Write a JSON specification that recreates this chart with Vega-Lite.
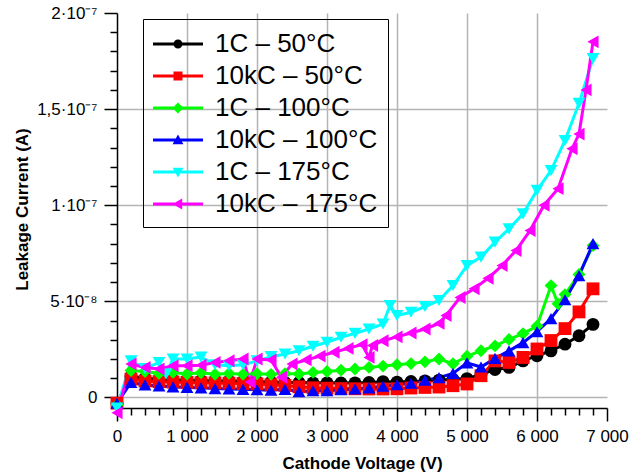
{
  "$schema": "https://vega.github.io/schema/vega-lite/v6.json",
  "width": 490,
  "height": 395,
  "autosize": {"type": "none"},
  "padding": {"left": 117, "top": 13, "right": 28, "bottom": 66},
  "background": "white",
  "config": {"view": {"stroke": null}, "font": "Liberation Sans"},
  "data": {"values": [
    {"s":"1C – 50°C","v":0,"i":-3e-9},{"s":"1C – 50°C","v":200,"i":11e-9},{"s":"1C – 50°C","v":400,"i":10e-9},{"s":"1C – 50°C","v":600,"i":9.5e-9},{"s":"1C – 50°C","v":800,"i":9e-9},{"s":"1C – 50°C","v":1000,"i":9e-9},{"s":"1C – 50°C","v":1200,"i":8.8e-9},{"s":"1C – 50°C","v":1400,"i":8.6e-9},{"s":"1C – 50°C","v":1600,"i":8.5e-9},{"s":"1C – 50°C","v":1800,"i":8.4e-9},{"s":"1C – 50°C","v":2000,"i":8.2e-9},{"s":"1C – 50°C","v":2200,"i":8e-9},{"s":"1C – 50°C","v":2400,"i":7.8e-9},{"s":"1C – 50°C","v":2600,"i":7.8e-9},{"s":"1C – 50°C","v":2800,"i":7.6e-9},{"s":"1C – 50°C","v":3000,"i":7.6e-9},{"s":"1C – 50°C","v":3200,"i":7.5e-9},{"s":"1C – 50°C","v":3400,"i":7.6e-9},{"s":"1C – 50°C","v":3600,"i":7.8e-9},{"s":"1C – 50°C","v":3800,"i":8.2e-9},{"s":"1C – 50°C","v":4000,"i":8e-9},{"s":"1C – 50°C","v":4200,"i":8.3e-9},{"s":"1C – 50°C","v":4400,"i":8.6e-9},{"s":"1C – 50°C","v":4600,"i":9e-9},{"s":"1C – 50°C","v":4800,"i":9.4e-9},{"s":"1C – 50°C","v":5000,"i":9.8e-9},{"s":"1C – 50°C","v":5200,"i":12e-9},{"s":"1C – 50°C","v":5400,"i":14.5e-9},{"s":"1C – 50°C","v":5600,"i":15.6e-9},{"s":"1C – 50°C","v":5800,"i":19e-9},{"s":"1C – 50°C","v":6000,"i":21.7e-9},{"s":"1C – 50°C","v":6200,"i":24.2e-9},{"s":"1C – 50°C","v":6400,"i":27.7e-9},{"s":"1C – 50°C","v":6600,"i":32.1e-9},{"s":"1C – 50°C","v":6800,"i":38e-9},
    {"s":"10kC – 50°C","v":0,"i":-3e-9},{"s":"10kC – 50°C","v":200,"i":9.5e-9},{"s":"10kC – 50°C","v":400,"i":8.5e-9},{"s":"10kC – 50°C","v":600,"i":8.2e-9},{"s":"10kC – 50°C","v":800,"i":8e-9},{"s":"10kC – 50°C","v":1000,"i":7.8e-9},{"s":"10kC – 50°C","v":1200,"i":7.6e-9},{"s":"10kC – 50°C","v":1400,"i":7.5e-9},{"s":"10kC – 50°C","v":1600,"i":7.4e-9},{"s":"10kC – 50°C","v":1800,"i":7.2e-9},{"s":"10kC – 50°C","v":2000,"i":7e-9},{"s":"10kC – 50°C","v":2200,"i":6.6e-9},{"s":"10kC – 50°C","v":2400,"i":6.2e-9},{"s":"10kC – 50°C","v":2600,"i":5.5e-9},{"s":"10kC – 50°C","v":2800,"i":5e-9},{"s":"10kC – 50°C","v":3000,"i":4.8e-9},{"s":"10kC – 50°C","v":3200,"i":4.6e-9},{"s":"10kC – 50°C","v":3400,"i":4.5e-9},{"s":"10kC – 50°C","v":3600,"i":4.4e-9},{"s":"10kC – 50°C","v":3800,"i":4.4e-9},{"s":"10kC – 50°C","v":4000,"i":4.5e-9},{"s":"10kC – 50°C","v":4200,"i":4.9e-9},{"s":"10kC – 50°C","v":4400,"i":5.2e-9},{"s":"10kC – 50°C","v":4600,"i":5.4e-9},{"s":"10kC – 50°C","v":4800,"i":6.1e-9},{"s":"10kC – 50°C","v":5000,"i":7e-9},{"s":"10kC – 50°C","v":5200,"i":11.3e-9},{"s":"10kC – 50°C","v":5400,"i":19e-9},{"s":"10kC – 50°C","v":5600,"i":18.2e-9},{"s":"10kC – 50°C","v":5800,"i":20.8e-9},{"s":"10kC – 50°C","v":6000,"i":25.2e-9},{"s":"10kC – 50°C","v":6200,"i":29.6e-9},{"s":"10kC – 50°C","v":6400,"i":35.8e-9},{"s":"10kC – 50°C","v":6600,"i":44.5e-9},{"s":"10kC – 50°C","v":6800,"i":56.5e-9},
    {"s":"1C – 100°C","v":0,"i":-4e-9},{"s":"1C – 100°C","v":200,"i":14e-9},{"s":"1C – 100°C","v":400,"i":13.5e-9},{"s":"1C – 100°C","v":600,"i":12.5e-9},{"s":"1C – 100°C","v":800,"i":13e-9},{"s":"1C – 100°C","v":1000,"i":12.2e-9},{"s":"1C – 100°C","v":1200,"i":12.8e-9},{"s":"1C – 100°C","v":1400,"i":12e-9},{"s":"1C – 100°C","v":1600,"i":12.5e-9},{"s":"1C – 100°C","v":1800,"i":12e-9},{"s":"1C – 100°C","v":2000,"i":12.3e-9},{"s":"1C – 100°C","v":2200,"i":12e-9},{"s":"1C – 100°C","v":2400,"i":12.4e-9},{"s":"1C – 100°C","v":2600,"i":12.2e-9},{"s":"1C – 100°C","v":2800,"i":13e-9},{"s":"1C – 100°C","v":3000,"i":13.5e-9},{"s":"1C – 100°C","v":3200,"i":14.2e-9},{"s":"1C – 100°C","v":3400,"i":14.8e-9},{"s":"1C – 100°C","v":3600,"i":15.6e-9},{"s":"1C – 100°C","v":3800,"i":16.3e-9},{"s":"1C – 100°C","v":4000,"i":17e-9},{"s":"1C – 100°C","v":4200,"i":17.6e-9},{"s":"1C – 100°C","v":4400,"i":18.5e-9},{"s":"1C – 100°C","v":4600,"i":20e-9},{"s":"1C – 100°C","v":4800,"i":17.5e-9},{"s":"1C – 100°C","v":5000,"i":21.4e-9},{"s":"1C – 100°C","v":5200,"i":24.3e-9},{"s":"1C – 100°C","v":5400,"i":26.8e-9},{"s":"1C – 100°C","v":5600,"i":30.2e-9},{"s":"1C – 100°C","v":5800,"i":33.2e-9},{"s":"1C – 100°C","v":6000,"i":37.1e-9},{"s":"1C – 100°C","v":6200,"i":58.2e-9},{"s":"1C – 100°C","v":6300,"i":48.7e-9},{"s":"1C – 100°C","v":6400,"i":53.5e-9},{"s":"1C – 100°C","v":6600,"i":64e-9},{"s":"1C – 100°C","v":6800,"i":79e-9},
    {"s":"10kC – 100°C","v":0,"i":-3e-9},{"s":"10kC – 100°C","v":200,"i":7.8e-9},{"s":"10kC – 100°C","v":400,"i":6.5e-9},{"s":"10kC – 100°C","v":600,"i":6e-9},{"s":"10kC – 100°C","v":800,"i":5.5e-9},{"s":"10kC – 100°C","v":1000,"i":5.2e-9},{"s":"10kC – 100°C","v":1200,"i":5e-9},{"s":"10kC – 100°C","v":1400,"i":4.6e-9},{"s":"10kC – 100°C","v":1600,"i":4.4e-9},{"s":"10kC – 100°C","v":1800,"i":4.2e-9},{"s":"10kC – 100°C","v":2000,"i":4e-9},{"s":"10kC – 100°C","v":2200,"i":3.8e-9},{"s":"10kC – 100°C","v":2400,"i":4.2e-9},{"s":"10kC – 100°C","v":2600,"i":3e-9},{"s":"10kC – 100°C","v":2800,"i":3.5e-9},{"s":"10kC – 100°C","v":3000,"i":3.5e-9},{"s":"10kC – 100°C","v":3200,"i":4e-9},{"s":"10kC – 100°C","v":3400,"i":4.4e-9},{"s":"10kC – 100°C","v":3600,"i":5e-9},{"s":"10kC – 100°C","v":3800,"i":5.8e-9},{"s":"10kC – 100°C","v":4000,"i":6.6e-9},{"s":"10kC – 100°C","v":4200,"i":7.4e-9},{"s":"10kC – 100°C","v":4400,"i":9e-9},{"s":"10kC – 100°C","v":4600,"i":10.3e-9},{"s":"10kC – 100°C","v":4800,"i":12.5e-9},{"s":"10kC – 100°C","v":5000,"i":18e-9},{"s":"10kC – 100°C","v":5200,"i":15.8e-9},{"s":"10kC – 100°C","v":5400,"i":20.3e-9},{"s":"10kC – 100°C","v":5600,"i":24.2e-9},{"s":"10kC – 100°C","v":5800,"i":28.5e-9},{"s":"10kC – 100°C","v":6000,"i":34.2e-9},{"s":"10kC – 100°C","v":6200,"i":41e-9},{"s":"10kC – 100°C","v":6400,"i":50.8e-9},{"s":"10kC – 100°C","v":6600,"i":63.4e-9},{"s":"10kC – 100°C","v":6800,"i":80e-9},
    {"s":"1C – 175°C","v":0,"i":-5.5e-9},{"s":"1C – 175°C","v":200,"i":19e-9},{"s":"1C – 175°C","v":400,"i":15e-9},{"s":"1C – 175°C","v":600,"i":18.2e-9},{"s":"1C – 175°C","v":700,"i":12.2e-9},{"s":"1C – 175°C","v":800,"i":20e-9},{"s":"1C – 175°C","v":1000,"i":20e-9},{"s":"1C – 175°C","v":1200,"i":21e-9},{"s":"1C – 175°C","v":1400,"i":17e-9},{"s":"1C – 175°C","v":1600,"i":16.5e-9},{"s":"1C – 175°C","v":1800,"i":17e-9},{"s":"1C – 175°C","v":2000,"i":19e-9},{"s":"1C – 175°C","v":2200,"i":21.2e-9},{"s":"1C – 175°C","v":2400,"i":22.6e-9},{"s":"1C – 175°C","v":2600,"i":24.3e-9},{"s":"1C – 175°C","v":2800,"i":26.6e-9},{"s":"1C – 175°C","v":3000,"i":28.7e-9},{"s":"1C – 175°C","v":3200,"i":31.3e-9},{"s":"1C – 175°C","v":3400,"i":33.3e-9},{"s":"1C – 175°C","v":3600,"i":35.6e-9},{"s":"1C – 175°C","v":3800,"i":38.2e-9},{"s":"1C – 175°C","v":3900,"i":47.8e-9},{"s":"1C – 175°C","v":4000,"i":42.6e-9},{"s":"1C – 175°C","v":4200,"i":44.3e-9},{"s":"1C – 175°C","v":4400,"i":47.3e-9},{"s":"1C – 175°C","v":4600,"i":50.4e-9},{"s":"1C – 175°C","v":4800,"i":58.2e-9},{"s":"1C – 175°C","v":5000,"i":68.6e-9},{"s":"1C – 175°C","v":5200,"i":73e-9},{"s":"1C – 175°C","v":5400,"i":80.8e-9},{"s":"1C – 175°C","v":5600,"i":87.7e-9},{"s":"1C – 175°C","v":5800,"i":95.5e-9},{"s":"1C – 175°C","v":6000,"i":107.7e-9},{"s":"1C – 175°C","v":6200,"i":118e-9},{"s":"1C – 175°C","v":6400,"i":133.7e-9},{"s":"1C – 175°C","v":6600,"i":153e-9},{"s":"1C – 175°C","v":6800,"i":176.3e-9},
    {"s":"10kC – 175°C","v":0,"i":-8e-9},{"s":"10kC – 175°C","v":200,"i":17.4e-9},{"s":"10kC – 175°C","v":400,"i":15.6e-9},{"s":"10kC – 175°C","v":600,"i":14.8e-9},{"s":"10kC – 175°C","v":800,"i":16.5e-9},{"s":"10kC – 175°C","v":1000,"i":16.5e-9},{"s":"10kC – 175°C","v":1200,"i":16.8e-9},{"s":"10kC – 175°C","v":1400,"i":18.2e-9},{"s":"10kC – 175°C","v":1600,"i":19.1e-9},{"s":"10kC – 175°C","v":1800,"i":20e-9},{"s":"10kC – 175°C","v":1900,"i":8e-9},{"s":"10kC – 175°C","v":2000,"i":20e-9},{"s":"10kC – 175°C","v":2200,"i":19.5e-9},{"s":"10kC – 175°C","v":2350,"i":10.5e-9},{"s":"10kC – 175°C","v":2500,"i":17.4e-9},{"s":"10kC – 175°C","v":2700,"i":19.5e-9},{"s":"10kC – 175°C","v":2900,"i":21.5e-9},{"s":"10kC – 175°C","v":3100,"i":23.5e-9},{"s":"10kC – 175°C","v":3300,"i":25.5e-9},{"s":"10kC – 175°C","v":3500,"i":27.5e-9},{"s":"10kC – 175°C","v":3600,"i":20.8e-9},{"s":"10kC – 175°C","v":3650,"i":27e-9},{"s":"10kC – 175°C","v":3800,"i":29.5e-9},{"s":"10kC – 175°C","v":4000,"i":31.5e-9},{"s":"10kC – 175°C","v":4200,"i":33.5e-9},{"s":"10kC – 175°C","v":4400,"i":35.6e-9},{"s":"10kC – 175°C","v":4600,"i":38.5e-9},{"s":"10kC – 175°C","v":4700,"i":42.6e-9},{"s":"10kC – 175°C","v":4900,"i":52e-9},{"s":"10kC – 175°C","v":5100,"i":56.5e-9},{"s":"10kC – 175°C","v":5300,"i":62e-9},{"s":"10kC – 175°C","v":5500,"i":68.6e-9},{"s":"10kC – 175°C","v":5700,"i":76.4e-9},{"s":"10kC – 175°C","v":5900,"i":86.8e-9},{"s":"10kC – 175°C","v":6100,"i":100e-9},{"s":"10kC – 175°C","v":6300,"i":108.6e-9},{"s":"10kC – 175°C","v":6500,"i":129.4e-9},{"s":"10kC – 175°C","v":6600,"i":137e-9},{"s":"10kC – 175°C","v":6700,"i":160e-9},{"s":"10kC – 175°C","v":6800,"i":185e-9}
  ]},
  "encoding": {
    "x": {
      "field": "v", "type": "quantitative",
      "scale": {"domain": [0, 7000], "nice": false, "zero": false},
      "axis": {
        "values": [0,200,400,600,800,1000,1200,1400,1600,1800,2000,2200,2400,2600,2800,3000,3200,3400,3600,3800,4000,4200,4400,4600,4800,5000,5200,5400,5600,5800,6000,6200,6400,6600,6800,7000],
        "labelExpr": "datum.value % 1000 === 0 ? replace(format(datum.value, ','), ',', ' ') : ''",
        "labelFlush": false, "labelOverlap": false, "labelBound": false,
        "labelFont": "Liberation Sans", "labelFontSize": 17, "labelColor": "black", "labelPadding": 7,
        "title": "Cathode Voltage (V)", "titleFont": "Liberation Sans", "titleFontSize": 17, "titleFontWeight": "bold", "titleColor": "black",
        "titleX": 245, "titleY": 55, "titleBaseline": "middle", "titleAlign": "center",
        "domainColor": "black", "domainWidth": 1.5,
        "tickColor": "black", "tickWidth": 1.5,
        "tickSize": {"condition": {"test": "datum.value % 1000 === 0", "value": 13}, "value": 7},
        "grid": true, "gridColor": "#b4b4b4", "gridWidth": 1.5,
        "gridOpacity": {"condition": {"test": "datum.value % 1000 === 0 && datum.value > 0 && datum.value < 7000", "value": 1}, "value": 0}
      }
    },
    "y": {
      "field": "i", "type": "quantitative",
      "scale": {"domain": [-5.5e-9, 2e-7], "nice": false, "zero": false},
      "axis": {
        "values": [0,1e-8,2e-8,3e-8,4e-8,5e-8,6e-8,7e-8,8e-8,9e-8,1e-7,1.1e-7,1.2e-7,1.3e-7,1.4e-7,1.5e-7,1.6e-7,1.7e-7,1.8e-7,1.9e-7,2e-7],
        "labelExpr": "round(datum.value*1e9) === 0 ? '0' : round(datum.value*1e9) === 50 ? '5·10⁻⁸' : round(datum.value*1e9) === 100 ? '1·10⁻⁷' : round(datum.value*1e9) === 150 ? '1,5·10⁻⁷' : round(datum.value*1e9) === 200 ? '2·10⁻⁷' : ''",
        "labelOverlap": false, "labelBound": false, "labelFlush": false,
        "labelFont": "Liberation Sans", "labelFontSize": 17, "labelColor": "black", "labelPadding": 7,
        "title": "Leakage Current (A)", "titleFont": "Liberation Sans", "titleFontSize": 17, "titleFontWeight": "bold", "titleColor": "black",
        "titleX": -95, "titleY": 196, "titleBaseline": "middle", "titleAlign": "center", "titleAngle": 270,
        "domainColor": "black", "domainWidth": 1.5,
        "tickColor": "black", "tickWidth": 1.5,
        "tickSize": {"condition": {"test": "round(datum.value*1e9) % 50 === 0", "value": 13}, "value": 7},
        "grid": true, "gridColor": "#b4b4b4", "gridWidth": 1.5,
        "gridOpacity": {"condition": {"test": "round(datum.value*1e9) % 50 === 0 && datum.value < 1.9e-7", "value": 1}, "value": 0}
      }
    }
  },
  "layer": [
    {
      "mark": {"type": "line", "strokeWidth": 3},
      "encoding": {
        "color": {"field": "s", "type": "nominal", "legend": null,
          "scale": {"domain": ["1C – 50°C","10kC – 50°C","1C – 100°C","10kC – 100°C","1C – 175°C","10kC – 175°C"], "range": ["#000000","#ff0000","#00ff00","#0000ff","#00ffff","#ff00ff"]}}
      }
    },
    {
      "mark": {"type": "point", "filled": true, "size": 165, "opacity": 1},
      "encoding": {
        "color": {"field": "s", "type": "nominal", "legend": null,
          "scale": {"domain": ["1C – 50°C","10kC – 50°C","1C – 100°C","10kC – 100°C","1C – 175°C","10kC – 175°C"], "range": ["#000000","#ff0000","#00ff00","#0000ff","#00ffff","#ff00ff"]}},
        "shape": {"field": "s", "type": "nominal", "legend": null,
          "scale": {"domain": ["1C – 50°C","10kC – 50°C","1C – 100°C","10kC – 100°C","1C – 175°C","10kC – 175°C"], "range": ["circle","square","diamond","triangle-up","triangle-down","triangle-left"]}}
      }
    },
    {
      "mark": {"type": "point", "filled": true, "opacity": 0},
      "encoding": {
        "color": {"field": "s", "type": "nominal",
          "scale": {"domain": ["1C – 50°C","10kC – 50°C","1C – 100°C","10kC – 100°C","1C – 175°C","10kC – 175°C"], "range": ["#000000","#ff0000","#00ff00","#0000ff","#00ffff","#ff00ff"]},
          "legend": {"title": null, "orient": "none", "legendX": 26, "legendY": 6, "padding": 10, "strokeColor": "black", "fillColor": null,
            "labelFont": "Liberation Sans", "labelFontSize": 26, "labelColor": "black", "labelLimit": 400, "labelOffset": 22,
            "symbolSize": 900, "symbolOffset": 10, "symbolOpacity": 1, "symbolStrokeWidth": 0, "rowPadding": 4}},
        "shape": {"field": "s", "type": "nominal",
          "scale": {"domain": ["1C – 50°C","10kC – 50°C","1C – 100°C","10kC – 100°C","1C – 175°C","10kC – 175°C"],
            "range": [
              "M-1.667,-0.1H1.667V0.1H-1.667Z M-0.3,0A0.3,0.3 0 1,1 0.3,0A0.3,0.3 0 1,1 -0.3,0Z",
              "M-1.667,-0.1H1.667V0.1H-1.667Z M-0.3,-0.3H0.3V0.3H-0.3Z",
              "M-1.667,-0.1H1.667V0.1H-1.667Z M0,-0.36L0.36,0L0,0.36L-0.36,0Z",
              "M-1.667,-0.1H1.667V0.1H-1.667Z M0,-0.36L0.36,0.28L-0.36,0.28Z",
              "M-1.667,-0.1H1.667V0.1H-1.667Z M0,0.36L-0.36,-0.28L0.36,-0.28Z",
              "M-1.667,-0.1H1.667V0.1H-1.667Z M-0.36,0L0.28,-0.36L0.28,0.36Z"
            ]},
          "legend": {"title": null, "orient": "none", "legendX": 26, "legendY": 6, "padding": 10, "strokeColor": "black", "fillColor": null,
            "labelFont": "Liberation Sans", "labelFontSize": 26, "labelColor": "black", "labelLimit": 400, "labelOffset": 22,
            "symbolSize": 900, "symbolOffset": 10, "symbolOpacity": 1, "symbolStrokeWidth": 0, "rowPadding": 4}}
      }
    }
  ],
  "resolve": {"scale": {"color": "independent", "shape": "independent"}}
}
